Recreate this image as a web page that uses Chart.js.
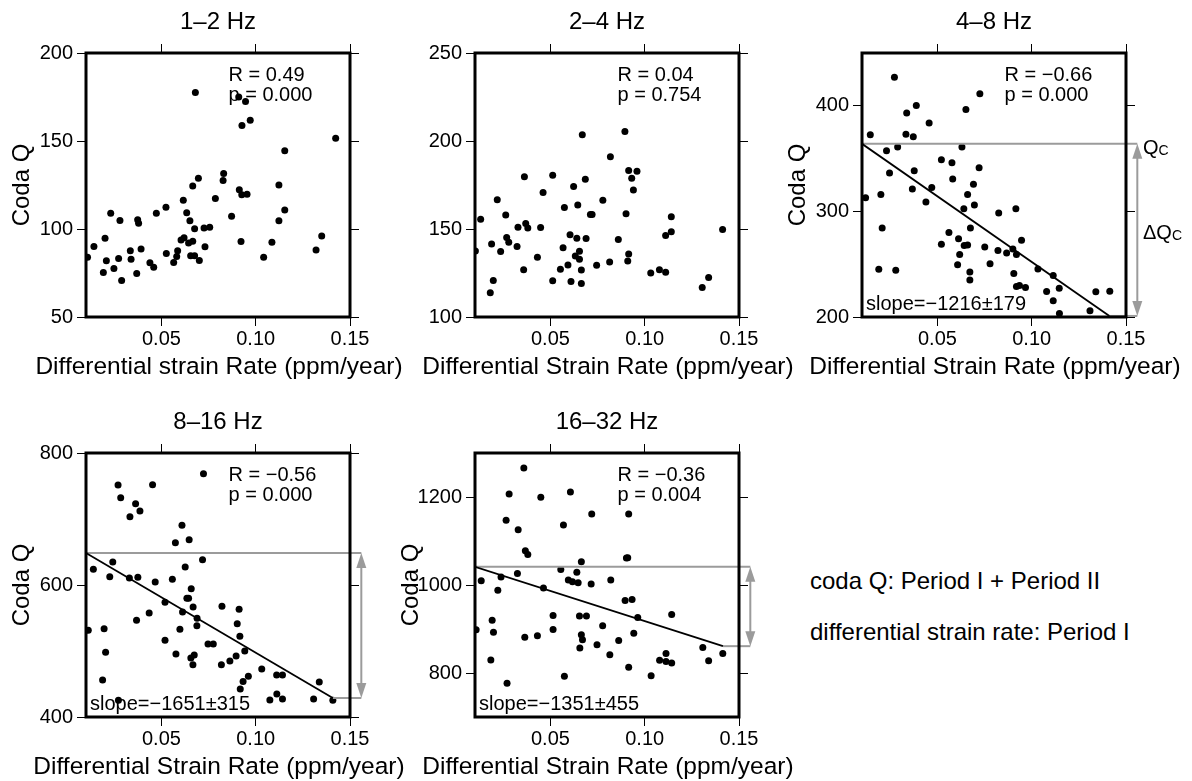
<!DOCTYPE html>
<html><head><meta charset="utf-8">
<script src="https://cdn.jsdelivr.net/npm/chart.js@4/dist/chart.umd.min.js"></script>
<style>
html,body{margin:0;padding:0;background:#fff;width:1192px;height:781px;overflow:hidden;position:relative;font-family:"Liberation Sans",Arial,sans-serif;}
canvas{position:absolute;}
.note{position:absolute;left:810px;font-size:24px;line-height:28px;color:#000;white-space:nowrap;}
</style></head><body>
<canvas id="c1"></canvas><canvas id="c2"></canvas><canvas id="c3"></canvas><canvas id="c4"></canvas><canvas id="c5"></canvas>
<div class="note" style="top:567px">coda Q: Period I + Period II</div>
<div class="note" style="top:618px">differential strain rate: Period I</div>
<script>
// ---------- data ----------
const xTicks = [0.05, 0.10, 0.15];
const xRange = [0.01, 0.15];

const strain_1_2 = [0.068,0.091,0.0946,0.0971,0.0927,0.1424,0.1154,0.083,0.0827,0.0696,
  0.0666,0.0616,0.0786,0.0913,0.0926,0.0954,0.1123,0.1154,0.1123,0.0872,
  0.0634,0.0651,0.0676,0.0726,0.0756,0.0524,0.0473,0.0374,0.0379,0.028,
  0.0231,0.0201,0.0142,0.0108,0.0208,0.0192,0.0248,0.0273,0.0289,0.0335,
  0.0339,0.0392,0.0369,0.0439,0.0459,0.0526,0.0565,0.0581,0.0586,0.0604,
  0.062,0.0644,0.0666,0.0655,0.0676,0.0701,0.0731,0.0922,0.1042,0.1086,
  0.132,0.135];
const codaQ_1_2 = [177.6,175,172.5,161.8,158.8,151.6,144.5,131.6,127.5,128.8,
  124.4,116.4,117.4,122.3,119.5,119.7,125,110.8,104.7,107.2,
  109.2,104.7,100.1,100.5,101,112.3,108.9,105.3,103.2,104.9,
  108.9,94.8,90,84,81.9,75.3,77.5,83.2,70.7,87.6,
  82.8,88.6,74.7,80.8,78.3,86.1,81,84.4,87.6,93.8,
  95,92,93.1,84.8,84.8,82.1,89.9,92.9,84,92.5,
  88,96];
const yTicks_1_2 = [50, 100, 150, 200];

const strain_2_4 = [0.0669,0.0895,0.0818,0.0915,0.0959,0.0931,0.094,0.0362,0.0512,0.0685,
  0.0623,0.0461,0.0218,0.0778,0.0574,0.0645,0.0263,0.013,0.0712,0.0721,
  0.0901,0.1141,0.0328,0.0369,0.038,0.0448,0.1413,0.1141,0.1111,0.0268,
  0.0279,0.0188,0.0323,0.0102,0.0236,0.0604,0.064,0.0689,0.0567,0.086,
  0.0654,0.0632,0.0654,0.0431,0.0915,0.091,0.0814,0.0745,0.0593,0.0553,
  0.0664,0.0358,0.1032,0.1078,0.1111,0.0512,0.0609,0.0664,0.0197,0.0181,
  0.1339,0.1305];
const codaQ_2_4 = [203.5,205.4,191.1,183.2,182.8,178.8,172.2,179.7,180.5,178.2,
  174.2,170.8,166.6,166.4,162.2,163.6,158,155.6,158.3,158.3,
  158.6,157,151,153.1,150.5,150.9,149.7,148.4,146.3,145.2,
  142.5,141.5,140,137.5,137.2,146.8,144.8,144.6,139.3,144,
  137.4,134.6,132.8,133.9,135.8,131.8,131.3,129.4,129.6,127.1,
  126.7,126.9,125,126.9,125.4,120.6,120.2,119.1,120.8,113.8,
  122.5,116.8];
const yTicks_2_4 = [100, 150, 200, 250];

const strain_4_8 = [0.0272,0.0725,0.0388,0.0337,0.0651,0.0456,0.0144,0.0333,0.0372,0.0289,
  0.023,0.063,0.0521,0.0577,0.0721,0.0377,0.0246,0.0581,0.0691,0.0367,
  0.047,0.066,0.0439,0.0696,0.064,0.0916,0.0825,0.02,0.0119,0.0675,
  0.0207,0.0561,0.0612,0.0521,0.0642,0.066,0.0618,0.0751,0.0821,0.0867,
  0.09,0.0919,0.0946,0.0607,0.0779,0.0672,0.0672,0.0905,0.1033,0.1114,
  0.0919,0.0935,0.0967,0.1146,0.1079,0.1114,0.134,0.1414,0.1147,0.1309,
  0.0189,0.0279];
const codaQ_4_8 = [427,411.3,400.3,393.1,396.6,383.7,372.7,373,370.8,361.1,
  357.4,361.1,348.9,346.1,341.4,338.6,336.4,330.7,325.7,321.3,
  322.6,316,308.8,306,302.5,302.5,298.4,316,312.9,284.3,
  284.3,280,274,269,267.7,268.3,259.2,266.2,263,260.5,
  264.3,259.2,272.7,249.5,250.5,242.6,235.1,241.1,245.5,239.2,
  228.8,229.8,227.9,227.3,224.1,215.4,223.8,224.5,203.4,206,
  245.1,244.2];
const yTicks_4_8 = [200, 300, 400];
const fitX_4_8 = [0.01, 0.1412];
const fitQ_4_8 = [364, 201];

const strain_8_16 = [0.0723,0.027,0.0453,0.0284,0.0363,0.0386,0.0333,0.0609,0.0574,0.0647,
  0.0718,0.0242,0.0139,0.0626,0.0226,0.033,0.0375,0.0467,0.0558,0.0658,
  0.0635,0.0644,0.0519,0.0668,0.0612,0.0435,0.0689,0.0688,0.0368,0.0821,
  0.0912,0.0902,0.0916,0.0598,0.0112,0.0196,0.0204,0.0519,0.0747,0.0775,
  0.0942,0.0896,0.0863,0.0818,0.0577,0.0656,0.0674,0.0667,0.1032,0.1111,
  0.1142,0.0961,0.0933,0.0918,0.0188,0.1112,0.1075,0.1142,0.1307,0.1337,
  0.1409,0.0272];
const codaQ_8_16 = [768.7,751.5,752,732.3,723.2,712.1,703.5,690.4,664.1,668.7,
  638.4,634.8,623.7,627.3,612.6,610.6,611.6,604.5,608.6,594.4,
  579.8,579.8,573.7,566.7,559.1,557.6,549.5,538.4,546.5,567.7,
  563.1,541.4,522.2,532.8,531.3,533.8,498,516.2,510.6,510.6,
  500,492.4,484.9,479.3,495.5,489.4,494,479.3,472.7,463.7,
  463.7,461.6,453.6,442.4,456.1,434.9,425.8,427.3,427.3,453,
  425.3,425.3];
const yTicks_8_16 = [400, 600, 800];
const fitX_8_16 = [0.01, 0.1409];
const fitQ_8_16 = [648.5, 428.8];

const strain_16_32 = [0.0359,0.0606,0.0281,0.0449,0.0719,0.0915,0.0265,0.0569,0.0329,0.0367,
  0.038,0.0903,0.091,0.0664,0.0555,0.0325,0.064,0.0238,0.0133,0.0595,
  0.0617,0.0647,0.082,0.0716,0.0221,0.0463,0.0896,0.0933,0.0514,0.0654,
  0.0691,0.0963,0.1143,0.0191,0.0777,0.0514,0.0106,0.0198,0.0942,0.0664,
  0.067,0.0431,0.0364,0.0862,0.0747,0.0656,0.0815,0.1113,0.1079,0.1113,
  0.1143,0.1308,0.1414,0.1339,0.0184,0.0915,0.1034,0.0574,0.027];
const codaQ_16_32 = [1265.7,1211.3,1206.8,1199.2,1161.5,1161.5,1147.2,1136.6,1125.3,1077.7,
  1069.4,1061.1,1061.9,1052.8,1035.5,1026.4,1028.7,1018.1,1009.8,1011.3,
  1007.5,1005.3,1011.3,1002.3,987.9,993.2,964.5,966.8,930.6,929.8,
  929.8,926,932.8,920,907.2,898.9,898.1,892.8,890.6,886.8,
  875.5,884.5,881.5,874,864.2,856.6,841.5,844.5,828.7,826.4,
  822.6,858.1,844.5,827.9,829.4,812.8,794,792.5,776.6];
const yTicks_16_32 = [800, 1000, 1200];
const fitX_16_32 = [0.01, 0.1415];
const fitQ_16_32 = [1041.5, 861];

const arrowX = 0.156;

// ---------- drawing ----------
const FONT = '"Liberation Sans", Arial, Helvetica, sans-serif';
const GRAY = '#9b9b9b';
const AXW = 86, TOPH = 53, XH = 64, Y2W = 10, X2H = 10, PW = 264, PH = 264, BOTPAD = 8;

const decorPlugin = {
  id: 'decor',
  afterDatasetsDraw(chart, args, o) {
    const {ctx, chartArea: a, scales} = chart;
    ctx.save();
    if (o.fitQ) {
      const x = scales.x.getPixelForValue(arrowX);
      const yT = scales.y.getPixelForValue(o.fitQ[0]);
      const yB = scales.y.getPixelForValue(o.fitQ[1]);
      const head = 15, hw = 5;
      ctx.strokeStyle = GRAY; ctx.fillStyle = GRAY; ctx.lineWidth = 2;
      ctx.beginPath(); ctx.moveTo(x, yT + head - 1); ctx.lineTo(x, yB - head + 1); ctx.stroke();
      ctx.beginPath(); ctx.moveTo(x, yT); ctx.lineTo(x - hw, yT + head); ctx.lineTo(x + hw, yT + head); ctx.closePath(); ctx.fill();
      ctx.beginPath(); ctx.moveTo(x, yB); ctx.lineTo(x - hw, yB - head); ctx.lineTo(x + hw, yB - head); ctx.closePath(); ctx.fill();
      if (o.qLabels) {
        ctx.fillStyle = '#000'; ctx.textAlign = 'left'; ctx.textBaseline = 'alphabetic';
        ctx.font = '20px ' + FONT;
        const qx = a.right + 17;
        ctx.fillText('Q', qx, yT + 10);
        const qw = ctx.measureText('Q').width;
        ctx.font = '14px ' + FONT; ctx.fillText('C', qx + qw, yT + 11);
        const ym = (yT + yB) / 2 + 9.5;
        ctx.font = '20px ' + FONT;
        ctx.fillText('ΔQ', qx, ym);
        const dw = ctx.measureText('ΔQ').width;
        ctx.font = '14px ' + FONT; ctx.fillText('C', qx + dw, ym + 1);
      }
    }
    // frame
    ctx.strokeStyle = '#000'; ctx.lineWidth = 3;
    ctx.strokeRect(a.left, a.top, a.right - a.left, a.bottom - a.top);
    // annotation text
    ctx.fillStyle = '#000'; ctx.textAlign = 'left'; ctx.textBaseline = 'alphabetic';
    ctx.font = '20px ' + FONT;
    ctx.fillText(o.r, a.left + 142.5, a.top + 27.5);
    ctx.fillText(o.p, a.left + 142.5, a.top + 48);
    if (o.slope) ctx.fillText(o.slope, a.left + 4, a.bottom - 7.5);
    // x-axis title
    ctx.font = '24.5px ' + FONT; ctx.textAlign = 'center'; ctx.textBaseline = 'middle';
    ctx.fillText(o.xlabel, (a.left + a.right) / 2 + 1, a.bottom + 50);
    ctx.restore();
  }
};

function setTicks(vals) { return function (scale) { scale.ticks = vals.map(v => ({value: v})); }; }
function gridOpts() { return {drawOnChartArea: false, drawTicks: true, tickLength: 9, color: '#000', lineWidth: 1}; }

function makePanel(p) {
  const canvas = document.getElementById(p.id);
  canvas.width = p.cw; canvas.height = TOPH + PH + XH + BOTPAD;
  canvas.style.left = (p.L - AXW) + 'px';
  canvas.style.top = (p.T - TOPH) + 'px';
  const datasets = [{
    type: 'scatter', data: p.xs.map((x, i) => ({x: x, y: p.ys[i]})),
    pointRadius: 3.5, pointBackgroundColor: '#000', pointBorderWidth: 0, showLine: false, order: 3
  }];
  if (p.fitX) {
    datasets.push({type: 'line', data: p.fitX.map((x, i) => ({x: x, y: p.fitQ[i]})),
      borderColor: '#000', borderWidth: 1.8, pointRadius: 0, fill: false, order: 1});
    datasets.push({type: 'line', data: [{x: xRange[0], y: p.fitQ[0]}, {x: arrowX, y: p.fitQ[0]}],
      borderColor: GRAY, borderWidth: 2, pointRadius: 0, fill: false, clip: false, order: 2});
    datasets.push({type: 'line', data: [{x: p.fitX[1], y: p.fitQ[1]}, {x: arrowX, y: p.fitQ[1]}],
      borderColor: GRAY, borderWidth: 2, pointRadius: 0, fill: false, clip: false, order: 2});
  }
  const xFit = s => { s.height = XH; };
  new Chart(canvas, {
    type: 'scatter',
    data: {datasets},
    options: {
      responsive: false, animation: false, events: [], devicePixelRatio: 1,
      layout: {padding: {left: 0, top: 0, right: p.cw - AXW - PW - Y2W, bottom: BOTPAD}},
      plugins: {
        legend: {display: false}, tooltip: {enabled: false},
        title: {display: true, text: p.title, fullSize: false, color: '#000',
          font: {family: FONT, size: 24, weight: 'normal', lineHeight: 1.2}, padding: {top: 8, bottom: 6.2}},
        decor: {r: p.r, p: p.p, slope: p.slope, xlabel: p.xlabel, fitQ: p.fitQ, qLabels: p.qLabels}
      },
      scales: {
        x: {type: 'linear', position: 'bottom', min: xRange[0], max: xRange[1],
          afterBuildTicks: setTicks(xTicks), afterFit: xFit, grid: gridOpts(), border: {display: false},
          ticks: {font: {family: FONT, size: 20}, color: '#000', padding: 1, maxRotation: 0, autoSkip: false,
            callback: v => Number(v).toFixed(2)}},
        x2: {type: 'linear', position: 'top', min: xRange[0], max: xRange[1],
          afterBuildTicks: setTicks(xTicks), afterFit: s => { s.height = X2H; }, grid: gridOpts(), border: {display: false},
          ticks: {display: false}},
        y: {type: 'linear', position: 'left', min: p.yTicks.min, max: p.yTicks.max,
          afterBuildTicks: setTicks(p.yTicks.vals), afterFit: s => { s.width = AXW; }, grid: gridOpts(), border: {display: false},
          ticks: {font: {family: FONT, size: 20}, color: '#000', padding: 4, autoSkip: false, callback: v => String(v)},
          title: {display: p.ylabel, text: 'Coda Q', color: '#000', font: {family: FONT, size: 24, lineHeight: 1.2}, padding: {top: 8, bottom: 0}}},
        y2: {type: 'linear', position: 'right', min: p.yTicks.min, max: p.yTicks.max,
          afterBuildTicks: setTicks(p.yTicks.vals), afterFit: s => { s.width = Y2W; }, grid: gridOpts(), border: {display: false},
          ticks: {display: false}}
      }
    },
    plugins: [decorPlugin]
  });
}

makePanel({id: 'c1', L: 86, T: 53, cw: 412, title: '1–2 Hz', xs: strain_1_2, ys: codaQ_1_2,
  yTicks: {min: 50, max: 200, vals: yTicks_1_2}, ylabel: true,
  xlabel: 'Differential strain Rate (ppm/year)', r: 'R = 0.49', p: 'p = 0.000'});
makePanel({id: 'c2', L: 475, T: 53, cw: 412, title: '2–4 Hz', xs: strain_2_4, ys: codaQ_2_4,
  yTicks: {min: 100, max: 250, vals: yTicks_2_4}, ylabel: false,
  xlabel: 'Differential Strain Rate (ppm/year)', r: 'R = 0.04', p: 'p = 0.754'});
makePanel({id: 'c3', L: 862, T: 53, cw: 416, title: '4–8 Hz', xs: strain_4_8, ys: codaQ_4_8,
  yTicks: {min: 200, max: 450, vals: yTicks_4_8}, ylabel: true,
  xlabel: 'Differential Strain Rate (ppm/year)', r: 'R = −0.66', p: 'p = 0.000',
  slope: 'slope=−1216±179', fitX: fitX_4_8, fitQ: fitQ_4_8, qLabels: true});
makePanel({id: 'c4', L: 86, T: 453, cw: 412, title: '8–16 Hz', xs: strain_8_16, ys: codaQ_8_16,
  yTicks: {min: 400, max: 800, vals: yTicks_8_16}, ylabel: true,
  xlabel: 'Differential Strain Rate (ppm/year)', r: 'R = −0.56', p: 'p = 0.000',
  slope: 'slope=−1651±315', fitX: fitX_8_16, fitQ: fitQ_8_16});
makePanel({id: 'c5', L: 475, T: 453, cw: 412, title: '16–32 Hz', xs: strain_16_32, ys: codaQ_16_32,
  yTicks: {min: 700, max: 1300, vals: yTicks_16_32}, ylabel: true,
  xlabel: 'Differential Strain Rate (ppm/year)', r: 'R = −0.36', p: 'p = 0.004',
  slope: 'slope=−1351±455', fitX: fitX_16_32, fitQ: fitQ_16_32});
</script>
</body></html>
